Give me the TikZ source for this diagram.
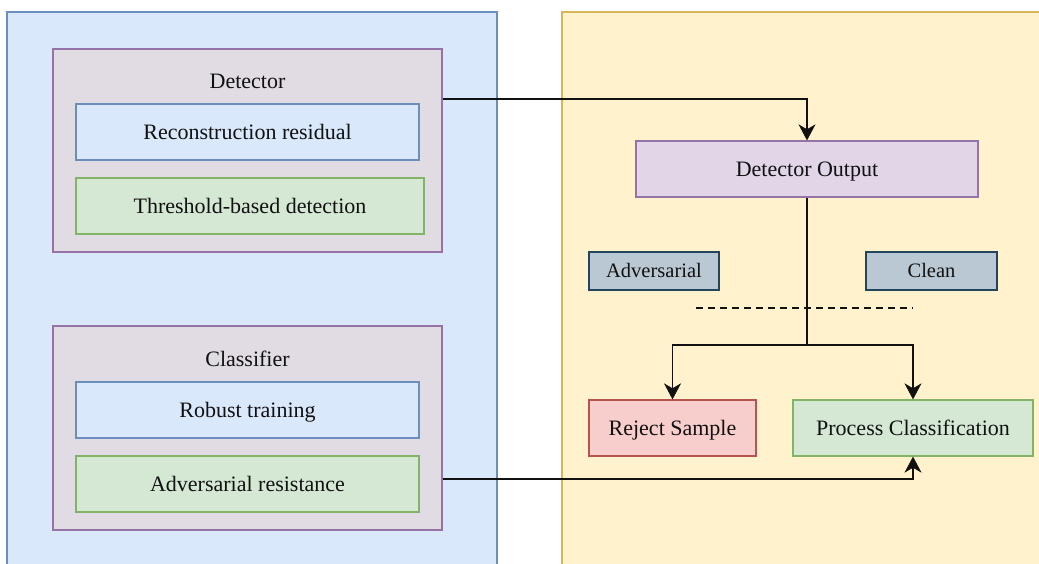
\documentclass[tikz,border=0pt]{standalone}
\usepackage{fontspec}
\setmainfont{Liberation Serif}
\usetikzlibrary{arrows.meta}

\definecolor{bluefill}{HTML}{DAE8FC}
\definecolor{blueline}{HTML}{6C8EBF}
\definecolor{yellowfill}{HTML}{FFF2CC}
\definecolor{yellowline}{HTML}{D6B656}
\definecolor{purplefill}{HTML}{E1D5E7}
\definecolor{groupfill}{RGB}{225,219,228}
\definecolor{purpleline}{HTML}{9673A6}
\definecolor{greenfill}{HTML}{D5E8D4}
\definecolor{greenline}{HTML}{82B366}
\definecolor{redfill}{HTML}{F8CECC}
\definecolor{redline}{HTML}{B85450}
\definecolor{greyfill}{HTML}{BAC8D3}
\definecolor{greyline}{HTML}{23445D}
\definecolor{ink}{HTML}{111111}

\tikzset{
  box/.style={rectangle, inner sep=0pt, line width=1.3pt, anchor=center,
    font=\fontsize{22}{26}\selectfont, text=ink, text height=16pt, text depth=2pt},
  bluebox/.style={box, fill=bluefill, draw=blueline},
  greenbox/.style={box, fill=greenfill, draw=greenline},
  redbox/.style={box, fill=redfill, draw=redline},
  purplebox/.style={box, fill=purplefill, draw=purpleline},
  groupbox/.style={box, fill=groupfill, draw=purpleline},
  tagbox/.style={box, fill=greyfill, draw=greyline, font=\fontsize{20.5}{24}\selectfont,
    text height=15pt, text depth=2pt},
  title/.style={inner sep=0pt, anchor=center, font=\fontsize{22}{26}\selectfont, text=ink,
    text height=16pt, text depth=2pt},
  conn/.style={draw=ink, line width=1.9pt, -{Stealth[length=16pt,width=17pt,inset=5pt,line width=0.5pt]}},
  link/.style={draw=ink, line width=1.9pt},
}

\begin{document}
\begin{tikzpicture}[x=1pt, y=-1pt]
  \useasboundingbox (0,0) rectangle (1039,563);
  \begin{scope}
    \clip (0,0) rectangle (1039,563);
    % the two panels run past the lower and right edges
    \draw[fill=bluefill, draw=blueline, line width=1.3pt] (7,12) rectangle (497,580);
    \draw[fill=yellowfill, draw=yellowline, line width=1.3pt] (562,12) rectangle (1060,580);
  \end{scope}

  % detector group
  \node[groupbox, minimum width=389pt, minimum height=203pt] (detbox) at (247.5,150.5) {};
  \node[title] (dettitle) at (247.5,81) {Detector};
  \node[bluebox, minimum width=343pt, minimum height=56pt] (recon) at (247.5,132) {Reconstruction residual};
  \node[greenbox, minimum width=348pt, minimum height=56pt] (thresh) at (250,206) {Threshold-based detection};

  % classifier group
  \node[groupbox, minimum width=389pt, minimum height=204pt] (clsbox) at (247.5,428) {};
  \node[title] (clstitle) at (247.5,359) {Classifier};
  \node[bluebox, minimum width=343pt, minimum height=56pt] (robust) at (247.5,410) {Robust training};
  \node[greenbox, minimum width=343pt, minimum height=56pt] (resist) at (247.5,484) {Adversarial resistance};

  % decision side
  \node[purplebox, minimum width=342pt, minimum height=56pt] (detout) at (807,169) {Detector Output};
  \node[tagbox, minimum width=130pt, minimum height=38pt] (advtag) at (654,271) {Adversarial};
  \node[tagbox, minimum width=131pt, minimum height=38pt] (cleantag) at (931.5,271) {Clean};
  \node[redbox, minimum width=167pt, minimum height=56pt] (reject) at (672.5,428) {Reject Sample};
  \node[greenbox, minimum width=240pt, minimum height=56pt] (proc) at (913,428) {Process Classification};

  % threshold line
  \coordinate (dashL) at (696,308);
  \coordinate (dashR) at (913,308);
  \draw[ink, line width=1.6pt, dash pattern=on 7pt off 5pt] (dashL) -- (dashR);

  % connectors
  \coordinate (split) at (807,345);
  \draw[conn] (detbox.east |- 0,99) -| (detout.north);
  \draw[link] (detout.south) -- (split);
  \draw[conn] (split) -| (reject.north);
  \draw[conn] (split) -| (proc.north);
  \draw[conn] (clsbox.east |- 0,479) -| (proc.south);
\end{tikzpicture}
\end{document}
